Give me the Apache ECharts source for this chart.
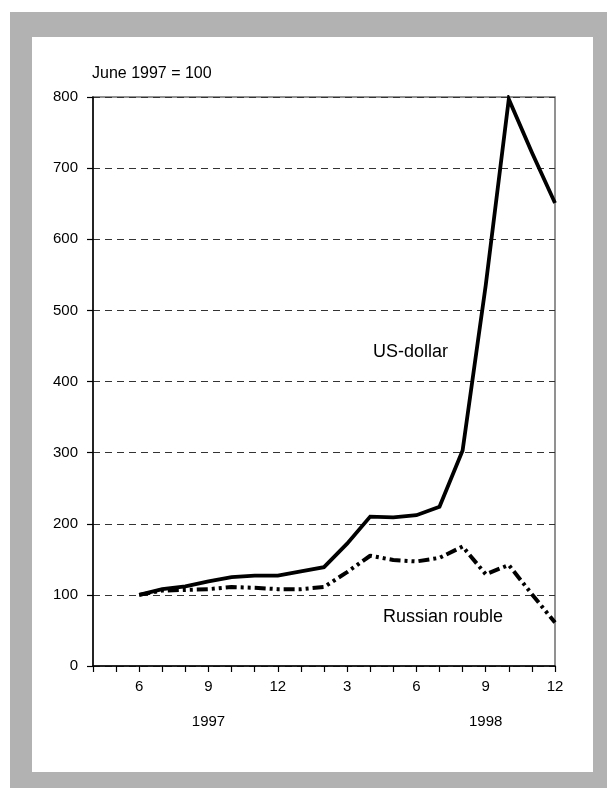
<!DOCTYPE html>
<html>
<head>
<meta charset="utf-8">
<script src="https://cdn.jsdelivr.net/npm/echarts@6/dist/echarts.min.js"></script>
<style>
html,body{margin:0;padding:0;background:#fff;}
#chart{width:607px;height:788px;}
</style>
</head>
<body>
<div id="chart"></div>
<script>
// Months from April 1997 to December 1998
var months = ['4','5','6','7','8','9','10','11','12','1','2','3','4','5','6','7','8','9','10','11','12'];
var yearLabels = ['','','','','','1997','','','','','','','','','','','','1998','','',''];
var usDollar = [null,null,100,108,112,119,125,127,127,133,139,172,210,209,212,224,303,535,797,722,651];
var russianRouble = [null,null,100,106,107,108,111,110,108,108,111,132,155,149,147,152,168,129,142,101,61];
var yTicks = [0,100,200,300,400,500,600,700,800];

var FONT = "'Liberation Sans', Arial, sans-serif";
var chart = echarts.init(document.getElementById('chart'), null, {renderer:'canvas'});
chart.setOption({
  animation:false,
  backgroundColor:'#fff',
  graphic:[
    {type:'rect', left:10, top:12, shape:{width:597, height:776}, style:{fill:'#b2b2b2'}, z:-10},
    {type:'rect', left:32, top:37, shape:{width:561, height:735}, style:{fill:'#ffffff'}, z:-9},
    {type:'text', left:92, top:66, style:{text:'June 1997 = 100', font:'16px '+FONT, fill:'#000'}},
    {type:'text', left:373, top:343, style:{text:'US-dollar', font:'18px '+FONT, fill:'#000'}},
    {type:'text', left:383, top:608, style:{text:'Russian rouble', font:'18px '+FONT, fill:'#000'}}
  ],
  grid:{left:93, right:52, top:97, bottom:122, show:true, borderColor:'#6e6e6e', borderWidth:1.5, backgroundColor:'transparent'},
  xAxis:[{
    type:'category', boundaryGap:false, data:months, position:'bottom',
    axisLine:{lineStyle:{color:'#000', width:1.5}},
    axisTick:{show:true, interval:0, length:6, lineStyle:{color:'#000', width:1.2}},
    axisLabel:{interval:function(i){return i%3===2;}, color:'#000', fontSize:15, fontFamily:FONT, margin:13},
    splitLine:{show:false}
  },{
    type:'category', boundaryGap:false, data:yearLabels, position:'bottom', offset:35,
    axisLine:{show:false}, axisTick:{show:false},
    axisLabel:{interval:0, color:'#000', fontSize:15, fontFamily:FONT, margin:13},
    splitLine:{show:false}
  }],
  yAxis:{
    type:'value', min:yTicks[0], max:yTicks[yTicks.length-1], interval:100,
    axisLine:{show:true, lineStyle:{color:'#000', width:1.5}},
    axisTick:{show:true, length:6, lineStyle:{color:'#000', width:1.2}},
    axisLabel:{color:'#000', fontSize:15, fontFamily:FONT, margin:15},
    splitLine:{show:true, lineStyle:{color:'#333', width:1, type:[7,5]}}
  },
  series:[
    {name:'US-dollar', type:'line', data:usDollar, symbol:'none', connectNulls:false,
     lineStyle:{color:'#000', width:3.8, join:'miter'}, z:3},
    {name:'Russian rouble', type:'line', data:russianRouble, symbol:'none',
     lineStyle:{color:'#000', width:4, type:[11,4,3,4,3,4], cap:'butt'}, z:3}
  ]
});
</script>
</body>
</html>
